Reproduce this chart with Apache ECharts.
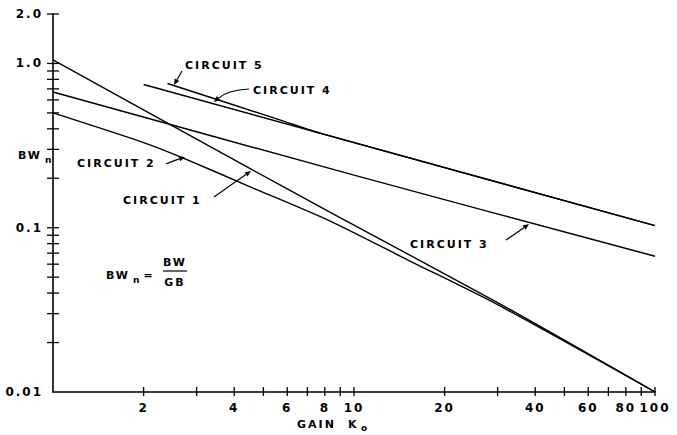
<!DOCTYPE html>
<html><head><meta charset="utf-8">
<script src="https://cdn.jsdelivr.net/npm/echarts@6/dist/echarts.min.js"></script>
<style>
html,body{margin:0;padding:0;background:#fff}
#c{width:677px;height:435px}
#c text{letter-spacing:2px}
</style></head><body><div id="c"></div>
<script>
// axis ranges
const X_MIN = 1, X_MAX = 100, Y_MIN = 0.01, Y_MAX = 2;
// ticks and labels
const xTickValues = [2,3,4,5,6,7,8,9,10,20,30,40,50,60,70,80,90,100];
const xLabelValues = [2,4,6,8,10,20,40,60,80,100];
const xLabelTexts = ['2','4','6','8','10','20','40','60','80','100'];
const yTickValues = [0.02,0.03,0.04,0.05,0.06,0.07,0.08,0.09,0.1,0.2,0.3,0.4,0.5,0.6,0.7,0.8,0.9,1.0,2.0];
const yLabelValues = [0.01,0.1,1.0,2.0];
const yLabelTexts = ['0.01','0.1','1.0','2.0'];
// series (gain K0 -> normalized bandwidth BWn)
const circuit1K  = [1, 4.6, 8.4, 30, 100];
const circuit1BW = [1.05, 0.225, 0.123, 0.035, 0.01];
const circuit2K  = [1, 2, 2.65, 4.6, 8.4, 15, 30, 100];
const circuit2BW = [0.50, 0.33, 0.27, 0.175, 0.109, 0.064, 0.034, 0.01];
const circuit3K  = [1, 10, 100];
const circuit3BW = [0.67, 0.209, 0.067];
const circuit4K  = [2, 100];
const circuit4BW = [0.745, 0.103];
const circuit5K  = [2.4, 5.7, 7.8, 100];
const circuit5BW = [0.755, 0.452, 0.374, 0.103];

const FONT = 'bold 11px "DejaVu Sans"';
const SUB = 'bold 9px "DejaVu Sans"';
const zip = (a, b) => a.map((v, i) => [v, b[i]]);

function lineSeries(name, k, bw) {
  return { name, type: 'line', data: zip(k, bw), symbol: 'none', smooth: 0.25,
    lineStyle: { color: '#000', width: 1.4 }, silent: true, z: 3 };
}
function txt(text, x, y, align, font) {
  return { type: 'text', x: x, y: y, silent: true, z: 10,
    style: { text, font: font || FONT, fill: '#000', align: align || 'left', textAlign: align || 'left',
      verticalAlign: 'middle', textVerticalAlign: 'middle' } };
}
function arrow(sx, sy, cx, cy, tx, ty) {
  const ang = Math.atan2(ty - cy, tx - cx), L = 6, W = 2.6;
  const bx = tx - L * Math.cos(ang), by = ty - L * Math.sin(ang);
  const nx = -Math.sin(ang) * W, ny = Math.cos(ang) * W;
  return [
    { type: 'bezierCurve', silent: true, z: 10,
      shape: { x1: sx, y1: sy, x2: bx, y2: by, cpx1: cx, cpy1: cy },
      style: { stroke: '#000', lineWidth: 1.2, fill: null } },
    { type: 'polygon', silent: true, z: 10,
      shape: { points: [[tx, ty], [bx + nx, by + ny], [bx - nx, by - ny]] },
      style: { fill: '#000' } }
  ];
}

const chart = echarts.init(document.getElementById('c'), null, { renderer: 'svg' });
const axisCommon = {
  axisLine: { show: true, lineStyle: { color: '#000', width: 1.6 } },
  axisTick: { show: false }, axisLabel: { show: false }, splitLine: { show: false }
};
const option = {
  backgroundColor: '#fff',
  animation: false,
  grid: { left: 53, right: 22, top: 14, bottom: 43, containLabel: false },
  xAxis: Object.assign({ type: 'log', logBase: 10, min: X_MIN, max: X_MAX }, axisCommon),
  yAxis: Object.assign({ type: 'log', logBase: 10, min: Y_MIN, max: Y_MAX }, axisCommon),
  series: [
    lineSeries('Circuit 1', circuit1K, circuit1BW),
    lineSeries('Circuit 2', circuit2K, circuit2BW),
    lineSeries('Circuit 3', circuit3K, circuit3BW),
    lineSeries('Circuit 4', circuit4K, circuit4BW),
    lineSeries('Circuit 5', circuit5K, circuit5BW),
    { type: 'custom', silent: true, clip: false, z: 5,
      data: xTickValues.map(v => [v, Y_MIN]),
      renderItem: (p, api) => { const pt = api.coord([api.value(0), api.value(1)]);
        return { type: 'line', shape: { x1: pt[0], y1: pt[1] - 5, x2: pt[0], y2: pt[1] + 4 },
          style: { stroke: '#000', lineWidth: 1.3 } }; } },
    { type: 'custom', silent: true, clip: false, z: 5,
      data: yTickValues.map(v => [X_MIN, v]),
      renderItem: (p, api) => { const pt = api.coord([api.value(0), api.value(1)]);
        return { type: 'line', shape: { x1: pt[0] - 6, y1: pt[1], x2: pt[0] + 6, y2: pt[1] },
          style: { stroke: '#000', lineWidth: 1.3 } }; } },
    { type: 'custom', silent: true, clip: false, z: 5,
      data: xLabelValues.map((v, i) => [v, Y_MIN, i]),
      renderItem: (p, api) => { const pt = api.coord([api.value(0), api.value(1)]);
        return { type: 'text', x: pt[0], y: pt[1] + 16,
          style: { text: xLabelTexts[api.value(2)], font: 'bold 12px "DejaVu Sans"', fill: '#000',
            align: 'center', textAlign: 'center', verticalAlign: 'middle', textVerticalAlign: 'middle' } }; } },
    { type: 'custom', silent: true, clip: false, z: 5,
      data: yLabelValues.map((v, i) => [X_MIN, v, i]),
      renderItem: (p, api) => { const pt = api.coord([api.value(0), api.value(1)]);
        return { type: 'text', x: pt[0] - 10, y: pt[1],
          style: { text: yLabelTexts[api.value(2)], font: 'bold 12px "DejaVu Sans"', fill: '#000',
            align: 'right', textAlign: 'right', verticalAlign: 'middle', textVerticalAlign: 'middle' } }; } }
  ],
  graphic: { elements: [].concat(
    [txt('CIRCUIT 5', 185, 65), txt('CIRCUIT 4', 253, 90), txt('CIRCUIT 2', 77, 163),
     txt('CIRCUIT 1', 123, 200), txt('CIRCUIT 3', 410, 244)],
    arrow(182, 71, 178, 78, 174, 85),
    arrow(249, 89, 228, 90, 214, 102),
    arrow(166, 164, 176, 160, 185, 157),
    arrow(214, 197, 232, 184, 251, 171),
    arrow(506, 240, 518, 232, 529, 224),
    // formula BWn = BW / GB
    [txt('BW', 106, 275), txt('n', 133, 280, 'left', SUB),
     txt('=', 149, 275, 'center'), txt('BW', 175, 262, 'center'), txt('GB', 175, 282, 'center'),
     { type: 'line', silent: true, z: 10, shape: { x1: 163, y1: 271, x2: 187, y2: 271 }, style: { stroke: '#000', lineWidth: 1.2 } }],
    // axis titles
    [txt('BW', 18, 155), txt('n', 45, 160, 'left', SUB),
     txt('GAIN', 297, 424), txt('K', 348, 424), txt('o', 361, 428, 'left', SUB)]
  ) }
};
chart.setOption(option);
</script></body></html>
